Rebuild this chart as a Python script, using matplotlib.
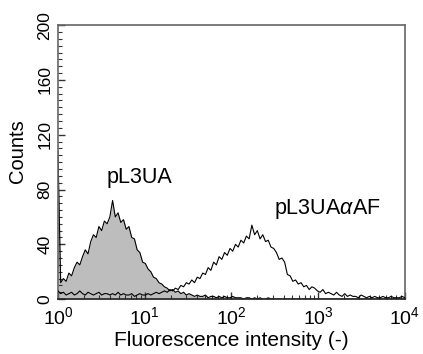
import numpy as np
import matplotlib
matplotlib.use("Agg")
import matplotlib.pyplot as plt
from matplotlib.ticker import MultipleLocator, LogLocator

plt.rcParams['font.family'] = ['Liberation Sans', 'DejaVu Sans']
plt.rcParams['mathtext.fontset'] = 'custom'
plt.rcParams['mathtext.rm'] = 'Liberation Sans'
plt.rcParams['mathtext.it'] = 'Liberation Sans:italic'

# 128 channels over four decades (10^0 .. 10^4)
n_channels = 128

# pL3UA (filled histogram)
counts_pl3ua = [
    108, 12, 15, 13, 19, 17, 23, 27, 25, 31, 36, 33, 42, 47, 45, 53, 50, 57, 55, 60,
    72, 60, 63, 56, 58, 51, 53, 45, 44, 36, 34, 27, 26, 22, 20, 16, 15, 12, 11, 9,
    8, 6, 7, 5, 6, 4, 5, 3, 4, 3, 2, 3, 2, 2, 3, 1, 2, 2, 1, 2,
    1, 2, 1, 1, 2, 1, 1, 1, 0, 1, 1, 0, 1, 0, 1, 0, 0, 1, 0, 0,
] + [0] * 48

# pL3UAaAF (open histogram)
counts_af = [
    6, 4, 5, 3, 4, 5, 3, 4, 6, 4, 3, 5, 4, 3, 4, 5, 3, 4, 4, 3,
    4, 3, 5, 3, 4, 3, 3, 4, 2, 3, 4, 3, 3, 4, 3, 4, 5, 4, 5, 6,
    5, 7, 6, 8, 7, 10, 9, 12, 11, 14, 12, 16, 15, 19, 18, 23, 21, 27, 25, 31,
    29, 34, 32, 37, 35, 40, 38, 43, 41, 46, 44, 54, 47, 50, 44, 47, 42, 43, 38, 37,
    34, 29, 30, 27, 18, 17, 13, 14, 11, 12, 9, 10, 7, 9, 8, 6, 5, 7, 4, 5,
    4, 3, 5, 3, 2, 4, 2, 3, 2, 2, 1, 3, 2, 1, 2, 1, 2, 1, 1, 2,
    1, 1, 2, 1, 1, 1, 2, 1,
]

channels = np.logspace(0, 4, n_channels)

fig = plt.figure(figsize=(4.23, 3.54), dpi=100)
ax = fig.add_axes([0.137, 0.155, 0.820, 0.774])

ax.fill_between(channels, counts_pl3ua, 0, color='#bdbdbd', linewidth=0, zorder=1)
ax.plot(channels, counts_pl3ua, color='black', linewidth=0.8, zorder=2)
ax.plot(channels, counts_af, color='black', linewidth=0.8, zorder=3)

ax.set_xscale('log')
ax.set_xlim(1, 1e4)
ax.set_ylim(0, 200)
ax.yaxis.set_major_locator(MultipleLocator(40))
ax.yaxis.set_minor_locator(MultipleLocator(5))
ax.xaxis.set_minor_locator(LogLocator(base=10, subs=np.arange(2, 10)))

ax.tick_params(axis='both', which='both', direction='in', top=False, right=False,
               color='#333333')
ax.tick_params(axis='both', which='major', length=5, width=1)
ax.tick_params(axis='both', which='minor', length=3, width=0.8)
ax.tick_params(axis='x', labelsize=14, pad=5)
ax.tick_params(axis='y', labelsize=12.5, pad=4)
for lab in ax.get_yticklabels():
    lab.set_rotation(90)
    lab.set_va('center')

for side in ['top', 'right', 'left']:
    ax.spines[side].set_color('#666666')
    ax.spines[side].set_linewidth(1.2)
ax.spines['bottom'].set_color('#222222')
ax.spines['bottom'].set_linewidth(1.2)

ax.set_xlabel('Fluorescence intensity (-)', fontsize=15, labelpad=2)
ax.set_ylabel('Counts', fontsize=14.5)
ax.yaxis.set_label_coords(-0.09, 0.54)

ax.text(8.8, 89, 'pL3UA', fontsize=15.5, ha='center', va='center')
ax.text(1260, 66, r'pL3UA$\alpha$AF', fontsize=15.5, ha='center', va='center')

fig.savefig('out.png', dpi=100)
